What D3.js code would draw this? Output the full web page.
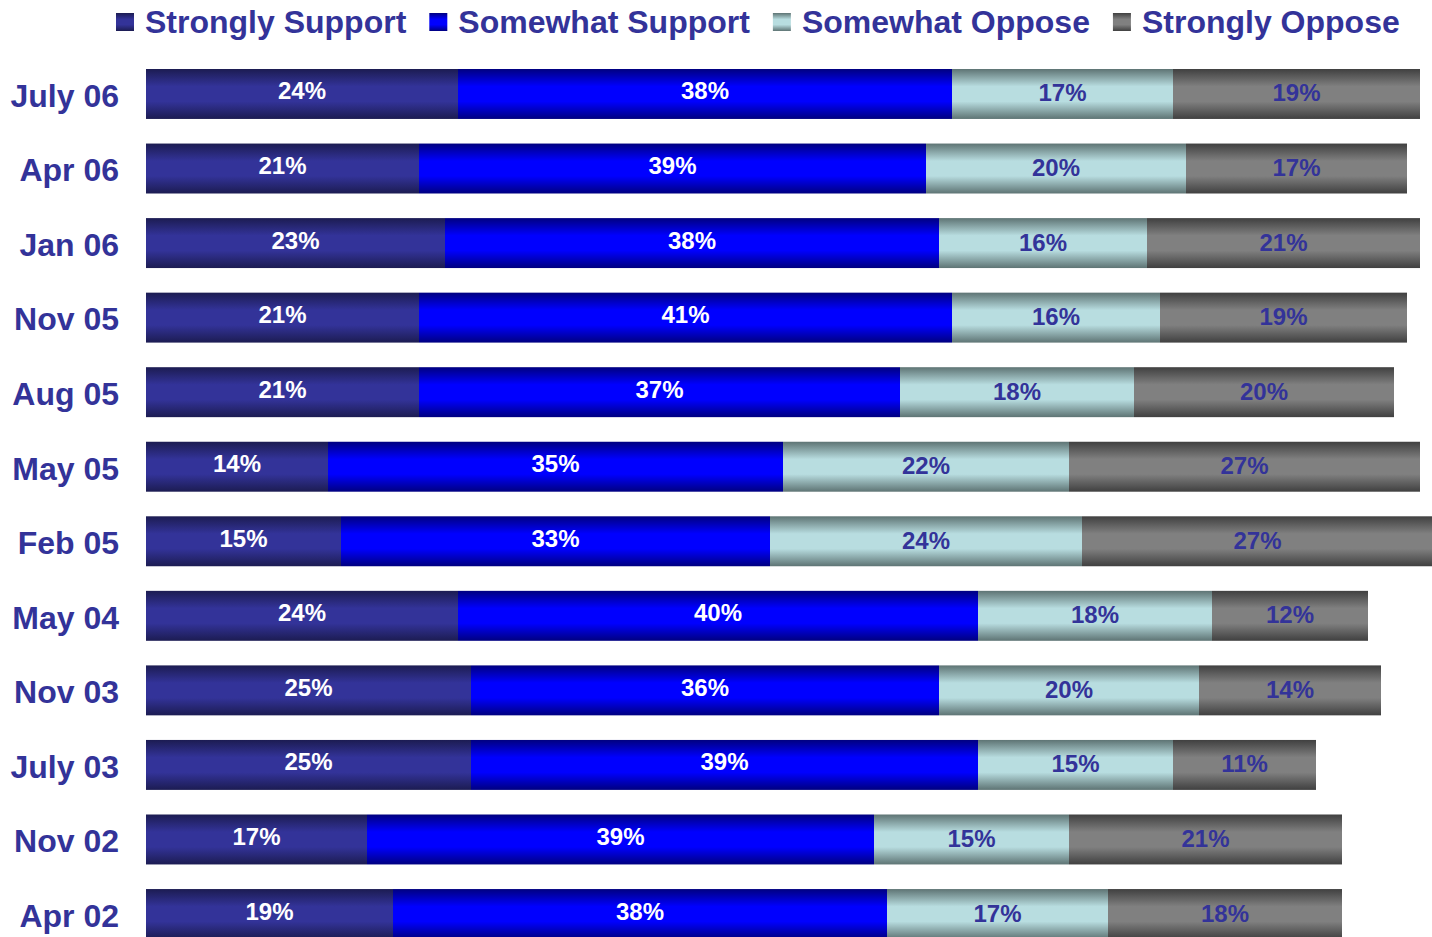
<!DOCTYPE html>
<html><head><meta charset="utf-8">
<script src="https://cdn.jsdelivr.net/npm/d3@7"></script>
<style>body{margin:0;background:#fff;}svg{display:block;font-family:"Liberation Sans",Arial,sans-serif;}</style>
</head><body><svg id="c" width="1432" height="937"></svg>
<script>
const categories = ["July 06","Apr 06","Jan 06","Nov 05","Aug 05","May 05","Feb 05","May 04","Nov 03","July 03","Nov 02","Apr 02"];
const seriesNames = ["Strongly Support","Somewhat Support","Somewhat Oppose","Strongly Oppose"];
const stronglySupport = [24,21,23,21,21,14,15,24,25,25,17,19];
const somewhatSupport = [38,39,38,41,37,35,33,40,36,39,39,38];
const somewhatOppose  = [17,20,16,16,18,22,24,18,20,15,15,17];
const stronglyOppose  = [19,17,21,19,20,27,27,12,14,11,21,18];

const colors = [
  {edge:"#1c1c52", mid:"#333399", label:"#ffffff"},
  {edge:"#000080", mid:"#0000ff", label:"#ffffff"},
  {edge:"#5e7474", mid:"#b8dde0", label:"#333399"},
  {edge:"#404040", mid:"#808080", label:"#333399"}
];

const svg = d3.select("#c");
const defs = svg.append("defs");
colors.forEach((c,i)=>{
  const g = defs.append("linearGradient").attr("id","g"+i).attr("x1",0).attr("x2",0).attr("y1",0).attr("y2",1);
  [[0,c.edge],[0.35,c.mid],[0.65,c.mid],[1,c.edge]].forEach(([o,col])=>g.append("stop").attr("offset",o).attr("stop-color",col));
});

const data = categories.map((c,i)=>({cat:c, ss:stronglySupport[i], ws:somewhatSupport[i], wo:somewhatOppose[i], so:stronglyOppose[i]}));
const keys = ["ss","ws","wo","so"];
const stack = d3.stack().keys(keys)(data);

const x = d3.scaleLinear().domain([0,98]).range([146,1420]);
const y = d3.scaleBand().domain(categories).range([56.7,951.3]).paddingInner(0.33).paddingOuter(0.165);

stack.forEach((layer,i)=>{
  const g = svg.append("g");
  g.selectAll("rect").data(layer).enter().append("rect")
    .attr("x",d=>x(d[0])).attr("width",d=>x(d[1])-x(d[0]))
    .attr("y",d=>y(d.data.cat)).attr("height",y.bandwidth())
    .attr("fill","url(#g"+i+")");
  g.selectAll("text").data(layer).enter().append("text")
    .attr("x",d=>(x(d[0])+x(d[1]))/2)
    .attr("y",d=>y(d.data.cat)+y.bandwidth()/2 + (i<2?-3:-1))
    .attr("text-anchor","middle").attr("dominant-baseline","central")
    .attr("font-size",24).attr("font-weight","bold")
    .attr("fill",colors[i].label)
    .text(d=>(d[1]-d[0])+"%");
});

// category axis labels
const yAxis = svg.append("g").attr("transform","translate(119,0)")
  .call(d3.axisLeft(y).tickSize(0).tickPadding(0));
yAxis.select(".domain").remove();
yAxis.selectAll("text").attr("font-size",32).attr("font-weight","bold").attr("fill","#333399")
  .attr("font-family","Liberation Sans, Arial, sans-serif").attr("dy","0.4em");

// legend
let lx = 116;
seriesNames.forEach((n,i)=>{
  svg.append("rect").attr("x",lx).attr("y",13).attr("width",18).attr("height",18).attr("fill","url(#g"+i+")");
  const t = svg.append("text").attr("x",lx+29).attr("y",22).attr("dominant-baseline","central")
    .attr("font-size",32).attr("font-weight","bold").attr("fill","#333399").text(n);
  lx = lx + 29 + t.node().getComputedTextLength() + 23;
});
</script></body></html>
